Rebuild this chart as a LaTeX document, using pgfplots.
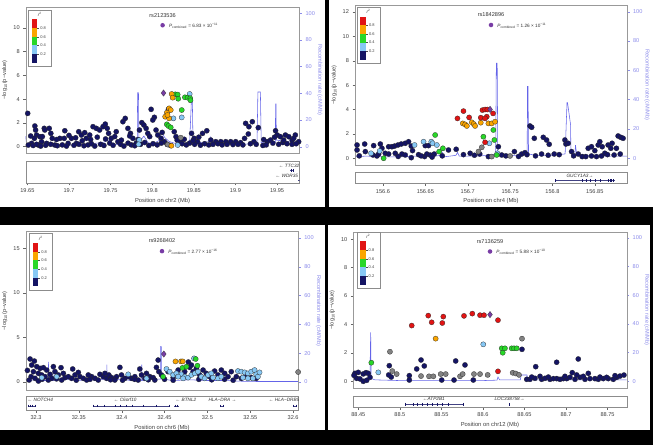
\documentclass[border=0pt]{standalone}
\usepackage{fontspec}
\setmainfont{Liberation Sans}
\usepackage{pgfplots}
\pgfplotsset{compat=1.18}
\definecolor{lznavy}{RGB}{20,20,100}
\definecolor{lzlblue}{RGB}{135,200,245}
\definecolor{lzgreen}{RGB}{40,215,40}
\definecolor{lzorange}{RGB}{250,165,0}
\definecolor{lzred}{RGB}{225,20,20}
\definecolor{lzgray}{RGB}{130,130,130}
\definecolor{lzpurple}{RGB}{120,60,165}
\definecolor{lzlav}{RGB}{140,140,235}
\definecolor{lzline}{RGB}{100,100,232}
\pgfplotsset{
  lzbase/.style={scale only axis, /pgf/number format/assume math mode=true,
    tick align=outside, major tick length=2.5pt, scaled ticks=false,
    ticklabel style={font=\fontsize{5.6}{6}\selectfont, text=black!75},
    every tick/.style={black!60, line width=0.4pt}},
  lzmain/.style={lzbase, axis line style={black!40, line width=0.4pt},
    xtick=\empty, ytick pos=left,
    ylabel={−log\textsubscript{10}(p−value)},
    ylabel style={font=\fontsize{5.6}{6}\selectfont, text=black!75, at={(axis description cs:-0.077,0.5)}, anchor=center}},
  lzrec/.style={lzbase, axis x line=none, axis y line*=right,
    y axis line style={lzlav, line width=0.4pt},
    ytick={0,20,40,60,80,100},
    ticklabel style={font=\fontsize{5.6}{6}\selectfont, text=lzlav},
    every tick/.style={lzlav, line width=0.4pt},
    ylabel={Recombination rate (cM/Mb)},
    ylabel style={font=\fontsize{5.6}{6}\selectfont, text=lzlav, rotate=180, at={(axis description cs:1.074,0.5)}, anchor=center}},
  lzgene/.style={lzbase, axis line style={black!45, line width=0.4pt},
    ytick=\empty, ymin=0, ymax=1, xtick pos=bottom,
    xticklabel style={/pgf/number format/fixed, /pgf/number format/precision=2},
    xlabel style={font=\fontsize{5.8}{6.5}\selectfont, text=black!75, yshift=1.5pt}},
  pts/.style={only marks, mark=*, mark size=2.6pt, mark options={draw=black!85, line width=0.25pt, fill=#1}},
  lead/.style={only marks, mark=diamond*, mark size=3.2pt, mark options={draw=black!80, line width=0.25pt, fill=lzpurple}},
  recl/.style={lzline, line width=0.55pt, no marks},
  gline/.style={lznavy!80, line width=0.5pt, no marks},
  gex/.style={only marks, mark=|, mark size=1.3pt, mark options={lznavy, line width=0.6pt}},
}
\newcommand{\rlegend}[2]{%
\begin{scope}[shift={(#1pt,#2pt)}]
\draw[black!45, line width=0.4pt, fill=white] (0,0) rectangle (23pt,-56pt);
\fill[lzred] (3.4pt,-9.3pt) rectangle (9pt,-18pt);
\fill[lzorange] (3.4pt,-18pt) rectangle (9pt,-26.7pt);
\fill[lzgreen] (3.4pt,-26.7pt) rectangle (9pt,-35.3pt);
\fill[lzlblue] (3.4pt,-35.3pt) rectangle (9pt,-44pt);
\fill[lznavy] (3.4pt,-44pt) rectangle (9pt,-52.7pt);
\foreach \yy/\ll in {18/0.8,26.7/0.6,35.3/0.4,44/0.2}{
  \draw[black!70, line width=0.3pt] (9pt,-\yy pt) -- (11pt,-\yy pt);
  \node[font=\fontsize{4}{4.5}\selectfont, text=black!75, anchor=west, inner sep=0.5pt] at (11.3pt,-\yy pt) {\ll};}
\node[font=\fontsize{4.5}{5}\selectfont, text=black!75, inner sep=0pt] at (11.5pt,-4.5pt) {\textit{r}\textsuperscript{2}};
\end{scope}}
\newcommand{\ptitle}[2]{%
\node[font=\fontsize{5.6}{6}\selectfont, text=black!80] at (axis description cs:0.5,0.94) {#1};
\node[circle, fill=lzpurple, inner sep=1.6pt] at (axis description cs:0.5,0.875) {};
\node[font=\fontsize{4.7}{5}\selectfont, text=black!80, anchor=west, inner sep=0pt] at (axis description cs:0.523,0.872) {\textit{P}\textsubscript{combined} = #2};}
\begin{document}
\begin{tikzpicture}
\useasboundingbox (0,0) rectangle (653pt,445pt);
\fill[black] (0,0) rectangle (653pt,445pt);
\fill[white] (0pt,238pt) rectangle (325pt,445pt);
\fill[white] (329pt,238pt) rectangle (653pt,445pt);
\fill[white] (0pt,15pt) rectangle (325pt,220pt);
\fill[white] (328pt,15pt) rectangle (650pt,220pt);

% ================= Panel 1 =================
\begin{axis}[lzrec, at={(25.7pt,292pt)}, width=273.8pt, height=146pt, xmin=19.648, xmax=19.977, ymin=-4.7, ymax=104.7]
\addplot[recl] coordinates {(19.648,8) (19.649,2) (19.66,1.5) (19.672,2) (19.68,1) (19.69,1.5) (19.70,1) (19.71,2) (19.72,1.5) (19.73,2.5) (19.74,3) (19.748,5) (19.752,2) (19.765,1) (19.775,2) (19.782,2) (19.7825,40.5) (19.7835,40.5) (19.784,3) (19.79,8) (19.795,3) (19.80,2) (19.8095,5) (19.8106,11) (19.815,7) (19.82,4) (19.83,2) (19.845,3) (19.8472,36) (19.8482,36) (19.849,4) (19.86,3) (19.8695,4) (19.8704,7) (19.872,3) (19.89,2) (19.90,1.5) (19.915,2) (19.926,3) (19.927,41) (19.930,41) (19.931,3) (19.94,3) (19.948,3) (19.9483,32) (19.9488,32) (19.9492,5) (19.96,4) (19.977,3)};
\end{axis}
\begin{axis}[lzmain, at={(25.7pt,292pt)}, width=273.8pt, height=146pt, xmin=19.648, xmax=19.977, ymin=-0.53, ymax=11.74, ytick={0,2,4,6,8,10}]
\addplot[pts=lznavy] coordinates {(19.6504,2.8) (19.659,1.74) (19.6599,1.4) (19.6611,0.98) (19.6584,0.7) (19.6651,0.84) (19.6671,0.42) (19.6703,1.54) (19.671,1.4) (19.6763,1.54) (19.6782,1.12) (19.6799,0.7) (19.6731,0.28) (19.6551,0.28) (19.6512,0.14) (19.6632,0.14) (19.683,0.14) (19.689,0.7) (19.695,1.34) (19.6943,0.7) (19.699,0.28) (19.703,0.7) (19.709,0.28) (19.7117,1.26) (19.715,0.98) (19.7189,1.18) (19.7209,0.7) (19.7249,0.98) (19.7289,1.68) (19.7329,1.54) (19.7368,1.4) (19.7409,1.68) (19.7436,1.9) (19.746,1.54) (19.7476,1.12) (19.7508,0.7) (19.7568,1.26) (19.7588,0.42) (19.7648,2.1) (19.7676,2.38) (19.7708,1.54) (19.7739,1.12) (19.7768,0.7) (19.7807,0.28) (19.7847,1.4) (19.7875,2.02) (19.79,1.82) (19.7927,1.54) (19.7947,1.12) (19.7987,3.14) (19.8026,2.47) (19.8007,2.24) (19.8046,1.4) (19.8067,0.98) (19.8106,0.7) (19.8146,0.42) (19.8265,1.26) (19.8286,0.84) (19.8337,0.42) (19.8385,0.62) (19.8473,1.12) (19.8504,0.7) (19.8545,0.42) (19.8605,1.12) (19.8656,1.34) (19.8704,0.56) (19.8764,0.42) (19.8824,0.42) (19.8884,0.42) (19.8943,0.42) (19.9003,0.42) (19.9063,0.34) (19.9123,1.96) (19.9162,1.68) (19.9203,2.1) (19.9155,1.07) (19.9222,0.42) (19.9275,1.6) (19.9382,0.42) (19.9422,0.56) (19.9482,1.34) (19.9502,0.98) (19.9541,0.84) (19.9601,0.98) (19.9641,0.84) (19.9681,0.56) (19.972,0.98) (19.976,0.42)
(19.657,0.1) (19.661,0.2) (19.666,0.05) (19.672,0.12) (19.678,0.2) (19.686,0.08) (19.692,0.15) (19.697,0.05) (19.706,0.12) (19.712,0.2) (19.718,0.08) (19.723,0.15) (19.727,0.25) (19.731,0.05) (19.738,0.2) (19.742,0.1) (19.749,0.3) (19.753,0.12) (19.762,0.2) (19.766,0.05) (19.771,0.3) (19.775,0.15) (19.779,0.08) (19.786,0.2) (19.791,0.35) (19.796,0.1) (19.801,0.25) (19.806,0.15) (19.811,0.3) (19.818,0.2) (19.822,0.1) (19.836,0.25) (19.841,0.15) (19.845,0.3) (19.851,0.2) (19.858,0.12) (19.863,0.25) (19.868,0.15) (19.873,0.2) (19.879,0.25) (19.884,0.15) (19.89,0.2) (19.897,0.18) (19.903,0.2) (19.909,0.15) (19.918,0.25) (19.925,0.2) (19.933,0.1) (19.937,0.15) (19.945,0.3) (19.952,0.2) (19.957,0.35) (19.962,0.25) (19.968,0.2) (19.973,0.25)
(19.654,0.9) (19.668,0.85) (19.685,0.6) (19.7,0.95) (19.708,0.75) (19.716,0.5) (19.726,0.6) (19.734,0.8) (19.744,0.65) (19.755,0.85) (19.763,0.55) (19.773,0.9) (19.783,0.6) (19.797,0.85) (19.812,1.2) (19.83,0.55) (19.849,0.5) (19.856,0.8) (19.911,0.7) (19.934,0.6) (19.947,0.8) (19.958,0.55) (19.97,0.7) (19.8195,3.14)};
\addplot[pts=lzgray] coordinates {(19.8343,0.76) (19.8185,0.18)};
\addplot[pts=lzlblue] coordinates {(19.7845,0.56) (19.7837,0.2) (19.8306,0.14) (19.8255,2.38) (19.8355,2.46) (19.845,4.43)};
\addplot[pts=lzgreen] coordinates {(19.8278,4.40) (19.8306,4.38) (19.8313,4.03) (19.8393,4.15) (19.8426,4.12) (19.8457,4.07) (19.846,3.9) (19.8176,1.88) (19.8195,1.74) (19.8223,1.62) (19.8355,3.08)};
\addplot[pts=lzorange] coordinates {(19.8234,4.43) (19.8246,4.12) (19.8203,3.22) (19.8223,3.08) (19.8176,2.86) (19.8156,2.52) (19.8203,2.38) (19.8184,2.66) (19.8231,0.08)};
\addplot[lead] coordinates {(19.8136,4.51)};
\ptitle{rs2123536}{6.83 × 10\textsuperscript{−11}}
\end{axis}
\begin{axis}[lzgene, at={(25.7pt,262pt)}, width=273.8pt, height=22pt, xmin=19.648, xmax=19.977, xtick={19.65,19.7,19.75,19.8,19.85,19.9,19.95}, xlabel={Position on chr2 (Mb)}]
\addplot[gline] coordinates {(19.966,0.58) (19.970,0.58)};
\addplot[gex] coordinates {(19.967,0.58) (19.969,0.58)};
\addplot[gline] coordinates {(19.9755,0.12) (19.977,0.12)};
\node[font=\itshape\fontsize{4.7}{5}\selectfont, text=black!80, anchor=east, inner sep=0pt] at (axis cs:19.977,0.8) {← TTC32};
\node[font=\itshape\fontsize{4.7}{5}\selectfont, text=black!80, anchor=east, inner sep=0pt] at (axis cs:19.9755,0.32) {← WDR35};
\end{axis}

% ================= Panel 2 =================
\begin{axis}[lzrec, at={(355pt,280pt)}, width=272pt, height=160pt, xmin=156.567, xmax=156.888, ymin=-4.57, ymax=104.6]
\addplot[recl] coordinates {(156.567,1) (156.58,1.5) (156.60,1) (156.62,1) (156.64,1.5) (156.655,1) (156.668,2) (156.670,4) (156.672,1) (156.686,2) (156.688,4) (156.690,1.5) (156.71,1.5) (156.725,2) (156.733,3) (156.7338,65) (156.7348,65) (156.7355,3) (156.745,2) (156.76,2) (156.7702,3) (156.7705,49) (156.7712,49) (156.7718,3) (156.78,2) (156.80,2) (156.815,3) (156.8172,38) (156.8178,38) (156.8214,23) (156.8218,3) (156.8265,3) (156.8272,9) (156.8285,3) (156.84,2) (156.86,1.5) (156.888,1.5)};
\end{axis}
\begin{axis}[lzmain, at={(355pt,280pt)}, width=272pt, height=160pt, xmin=156.567, xmax=156.888, ymin=-0.55, ymax=12.57, ytick={0,2,4,6,8,10,12}]
\addplot[pts=lznavy] coordinates {(156.5694,1.09) (156.5694,0.68) (156.5784,1.17) (156.5890,1.04) (156.5969,1.17) (156.5988,0.82) (156.6067,0.95) (156.6106,0.95) (156.6137,1.0) (156.6177,1.09) (156.6216,1.17) (156.6263,1.23) (156.6302,1.36) (156.6334,1.0) (156.6349,0.63) (156.6027,0.41) (156.6067,0.35) (156.6145,0.41) (156.6224,0.35) (156.6263,0.27) (156.6334,0.05) (156.6491,0.14) (156.6518,0.35) (156.6558,0.27) (156.6605,0.35) (156.6499,1.04) (156.6538,1.04) (156.6773,0.68) (156.6864,0.74) (156.7029,0.41) (156.7142,0.35) (156.7244,0.14) (156.7362,0.95) (156.7401,0.27) (156.7551,0.55) (156.7637,0.35) (156.7676,0.46) (156.7735,2.65) (156.7755,2.54) (156.7786,1.64) (156.7872,0.35) (156.7892,1.72) (156.7931,1.5) (156.7962,1.15) (156.8021,0.35) (156.8147,1.5) (156.8159,1.17) (156.8186,1.23) (156.8226,0.55) (156.8304,0.35) (156.8351,0.14) (156.8394,0.14) (156.8422,0.82) (156.8461,0.95) (156.85,0.63) (156.854,1.09) (156.8559,1.36) (156.8587,0.95) (156.8618,0.41) (156.8657,1.09) (156.8689,0.82) (156.8704,1.23) (156.8728,0.27) (156.8755,0.82) (156.8775,1.83) (156.8806,1.72) (156.8834,1.64) (156.8461,0.19) (156.852,0.14) (156.8579,0.19) (156.5792,0.55) (156.5882,0.27) (156.5929,0.19) (156.5949,0.35) (156.5720,0.2) (156.6180,0.15) (156.6420,0.3) (156.6450,0.2) (156.6580,0.1) (156.6700,0.2) (156.6950,0.3) (156.7080,0.25) (156.7450,0.2) (156.7600,0.15) (156.7700,0.3) (156.7800,0.2) (156.7950,0.25) (156.8080,0.3) (156.8250,0.2) (156.8650,0.3) (156.8800,0.35)};
\addplot[pts=lzgray] coordinates {(156.7166,0.9) (156.7284,0.14) (156.75,0.19) (156.7127,0.55)};
\addplot[pts=lzlblue] coordinates {(156.5859,0.41) (156.5961,0.6) (156.6373,1.09) (156.6479,1.36) (156.657,1.36) (156.6585,1.23) (156.6636,1.09) (156.7256,1.23) (156.735,0.41)};
\addplot[pts=lzgreen] coordinates {(156.6616,1.91) (156.7185,1.77) (156.7303,2.32) (156.7315,1.5) (156.6663,0.55) (156.6707,0.82) (156.6008,0.0) (156.7342,0.27)};
\addplot[pts=lzorange] coordinates {(156.6942,2.86) (156.697,2.78) (156.699,2.65) (156.7048,2.95) (156.7072,2.81) (156.7087,2.65) (156.7154,2.92) (156.7244,2.86) (156.7284,2.86) (156.7323,3.0)};
\addplot[pts=lzred] coordinates {(156.695,3.87) (156.6879,3.27) (156.7017,3.35) (156.7154,3.33) (156.7174,3.95) (156.7205,4.0) (156.7232,4.0) (156.7225,3.41) (156.7205,3.27) (156.7299,3.68) (156.7205,1.31)};
\addplot[lead] coordinates {(156.7264,4.01)};
\ptitle{rs1842896}{1.26 × 10\textsuperscript{−11}}
\end{axis}
\begin{axis}[lzgene, at={(355pt,261.7pt)}, width=272pt, height=10.6pt, xmin=156.567, xmax=156.888, xtick={156.6,156.65,156.7,156.75,156.8,156.85}, xlabel={Position on chr4 (Mb)}]
\addplot[gline] coordinates {(156.803,0.25) (156.8736,0.25)};
\addplot[gex] coordinates {(156.803,0.25) (156.835,0.25) (156.840,0.25) (156.845,0.25) (156.850,0.25) (156.856,0.25) (156.866,0.25) (156.868,0.25) (156.870,0.25) (156.872,0.25)};
\node[font=\itshape\fontsize{4.7}{5}\selectfont, text=black!80, inner sep=0pt] at (axis cs:156.8324,0.72) {GUCY1A3→};
\end{axis}

% ================= Panel 3 =================
\begin{axis}[lzrec, at={(25.7pt,54.7pt)}, width=272.6pt, height=159pt, xmin=32.288, xmax=32.606, ymin=-5.8, ymax=104.7]
\addplot[recl] coordinates {(32.288,2) (32.295,1) (32.300,3) (32.305,1) (32.314,1) (32.3145,14) (32.315,1) (32.3195,1) (32.3198,12) (32.3202,1) (32.33,2) (32.35,1) (32.36,2) (32.37,1) (32.38,2) (32.3824,1) (32.3827,12) (32.383,1) (32.40,2) (32.41,1) (32.42,2) (32.4231,1) (32.4234,12) (32.4237,1) (32.435,2) (32.44,2) (32.445,2) (32.4452,24.5) (32.4462,24.5) (32.4464,2) (32.46,1) (32.48,1.5) (32.50,1) (32.52,1) (32.54,0.5) (32.56,0.3) (32.606,0.3)};
\end{axis}
\begin{axis}[lzmain, at={(25.7pt,54.7pt)}, width=272.6pt, height=159pt, xmin=32.288, xmax=32.606, ymin=-0.93, ymax=16.9, ytick={0,5,10,15}]
\addplot[pts=lznavy] coordinates {(32.2931,2.58) (32.2981,2.35) (32.2950,1.9) (32.3009,1.72) (32.3047,1.53) (32.3086,1.61) (32.3125,1.34) (32.2970,1.16) (32.3028,0.97) (32.3067,0.79) (32.2943,0.6) (32.2989,0.41) (32.3106,0.6) (32.3164,0.86) (32.3203,1.72) (32.3222,1.16) (32.3261,0.79) (32.3292,1.61) (32.3319,0.97) (32.3338,0.49) (32.33,0.22) (32.292,0.22) (32.3028,0.11) (32.3144,0.22) (32.3183,0.41) (32.3428,1.46) (32.3455,0.79) (32.3416,0.41) (32.3513,0.6) (32.3552,0.41) (32.3591,0.22) (32.3494,1.08) (32.3649,0.6) (32.3688,0.41) (32.3746,0.86) (32.3785,0.6) (32.3823,0.41) (32.385,0.79) (32.3882,0.49) (32.394,0.6) (32.3979,1.64) (32.3998,0.79) (32.4037,0.41) (32.392,0.22) (32.3726,0.22) (32.4114,0.41) (32.4153,0.6) (32.4211,1.46) (32.4231,0.79) (32.427,0.41) (32.4328,0.6) (32.4367,0.49) (32.4405,1.64) (32.4425,2.46) (32.4433,1.16) (32.4464,0.79) (32.4386,0.22) (32.4192,0.22) (32.4541,1.16) (32.4658,1.34) (32.4735,1.16) (32.4793,1.64) (32.4813,1.9) (32.4832,1.16) (32.4871,1.53) (32.491,0.79) (32.4949,1.34) (32.4987,0.97) (32.5026,0.6) (32.5084,1.23) (32.5123,0.79) (32.5162,1.34) (32.5201,0.97) (32.524,0.6) (32.5278,1.16) (32.5337,0.6) (32.5395,0.41) (32.5453,0.79) (32.5511,0.49) (32.5569,0.41) (32.3377,0.6) (32.3610,0.79) (32.3804,0.97) (32.4076,0.6) (32.4289,0.97) (32.46,0.49) (32.4778,2.24) (32.2900,1.3) (32.3070,0.3) (32.3240,0.35) (32.3470,0.2) (32.3630,0.3) (32.3870,0.25) (32.4010,0.2) (32.4150,0.3) (32.4310,0.25) (32.4500,0.3) (32.4600,0.2) (32.4900,0.3) (32.5050,0.25) (32.5200,0.3) (32.5300,0.2)};
\addplot[pts=lzgray] coordinates {(32.6058,1.12)};
\addplot[pts=lzlblue] coordinates {(32.3067,0.49) (32.3241,0.6) (32.4522,1.46) (32.456,1.16) (32.46,0.79) (32.4638,0.97) (32.4696,0.86) (32.4735,0.6) (32.4774,0.49) (32.4813,0.79) (32.4852,0.97) (32.489,1.16) (32.4929,0.6) (32.4968,0.41) (32.5007,0.79) (32.5046,0.97) (32.5065,0.49) (32.5123,0.41) (32.5162,0.6) (32.5356,1.23) (32.5395,1.16) (32.5434,1.08) (32.5472,0.97) (32.5511,1.16) (32.555,1.34) (32.5569,0.86) (32.5589,0.6) (32.553,0.41) (32.5472,0.41) (32.5414,0.49) (32.4076,0.86) (32.4289,0.41) (32.4844,2.65) (32.4658,0.6) (32.4716,0.41) (32.5608,1.08)};
\addplot[pts=lzgreen] coordinates {(32.4483,0.6) (32.4708,1.58) (32.4755,1.72) (32.4883,1.83) (32.4863,2.58)};
\addplot[pts=lzorange] coordinates {(32.4627,2.31) (32.4692,2.31) (32.4712,2.31)};
\addplot[lead] coordinates {(32.4491,3.14)};
\ptitle{rs9268402}{2.77 × 10\textsuperscript{−16}}
\end{axis}
\begin{axis}[lzgene, at={(25.7pt,35pt)}, width=272.6pt, height=14pt, xmin=32.288, xmax=32.606, xtick={32.3,32.35,32.4,32.45,32.5,32.55,32.6}, xlabel={Position on chr6 (Mb)}]
\addplot[gline] coordinates {(32.2905,0.3) (32.2992,0.3)};
\addplot[gline] coordinates {(32.3664,0.3) (32.4564,0.3)};
\addplot[gex] coordinates {(32.367,0.3) (32.372,0.3) (32.380,0.3) (32.392,0.3) (32.398,0.3) (32.405,0.3) (32.412,0.3) (32.425,0.3) (32.440,0.3) (32.456,0.3)};
\addplot[gline] coordinates {(32.461,0.3) (32.467,0.3)};
\addplot[gline] coordinates {(32.5147,0.3) (32.5193,0.3)};
\addplot[gline] coordinates {(32.5996,0.3) (32.6043,0.3)};
\addplot[gex] coordinates {(32.2905,0.3) (32.293,0.3) (32.296,0.3) (32.299,0.3) (32.462,0.3) (32.465,0.3) (32.515,0.3) (32.519,0.3) (32.600,0.3) (32.604,0.3)};
\node[font=\itshape\fontsize{4.7}{5}\selectfont, text=black!80, inner sep=0pt] at (axis cs:32.305,0.72) {← NOTCH4};
\node[font=\itshape\fontsize{4.7}{5}\selectfont, text=black!80, inner sep=0pt] at (axis cs:32.404,0.72) {← C6orf10};
\node[font=\itshape\fontsize{4.7}{5}\selectfont, text=black!80, inner sep=0pt] at (axis cs:32.475,0.72) {← BTNL2};
\node[font=\itshape\fontsize{4.7}{5}\selectfont, text=black!80, inner sep=0pt] at (axis cs:32.5175,0.72) {HLA−DRA →};
\node[font=\itshape\fontsize{4.7}{5}\selectfont, text=black!80, inner sep=0pt] at (axis cs:32.5895,0.72) {← HLA−DRB5};
\end{axis}

% ================= Panel 4 =================
\begin{axis}[lzrec, at={(353.3pt,57pt)}, width=273.4pt, height=156pt, xmin=88.444, xmax=88.773, ymin=-4.67, ymax=104]
\addplot[recl] coordinates {(88.444,1) (88.46,1) (88.464,2) (88.4649,34) (88.4655,2) (88.47,1) (88.50,0.5) (88.55,0.5) (88.60,0.5) (88.617,0.8) (88.6181,3) (88.62,1) (88.63,1) (88.645,1) (88.646,4.4) (88.653,4.4) (88.654,1) (88.70,1) (88.773,1)};
\end{axis}
\begin{axis}[lzmain, at={(353.3pt,57pt)}, width=273.4pt, height=156pt, xmin=88.444, xmax=88.773, ymin=-0.47, ymax=10.5, ytick={0,2,4,6,8,10}]
\addplot[pts=lznavy] coordinates {(88.647,2.25) (88.4873,1.1) (88.5255,1.5) (88.5294,1.08) (88.5203,0.87) (88.5672,1.43) (88.5784,1.15) (88.6635,1.03) (88.6887,1.34) (88.7147,1.57) (88.7268,0.56) (88.7075,0.61) (88.5114,0.4) (88.5114,0.09) (88.5504,0.09) (88.5652,0.09) (88.5884,0.09) (88.446,0.56) (88.45,0.63) (88.456,0.52) (88.4593,0.61) (88.462,0.56) (88.448,0.21) (88.452,0.17) (88.456,0.0) (88.4601,0.07) (88.4641,0.28) (88.4448,0.42) (88.6527,0.14) (88.6566,0.14) (88.6626,0.21) (88.6707,0.14) (88.6747,0.21) (88.6807,0.14) (88.6847,0.19) (88.6888,0.19) (88.6927,0.14) (88.6967,0.19) (88.7008,0.19) (88.7048,0.28) (88.7108,0.14) (88.7168,0.28) (88.7228,0.14) (88.7288,0.19) (88.7348,0.19) (88.7388,0.14) (88.7448,0.19) (88.7509,0.19) (88.7569,0.14) (88.7609,0.28) (88.7649,0.37) (88.7697,0.44) (88.4897,0.3) (88.4866,0.45) (88.6587,0.3) (88.6687,0.35) (88.6787,0.3) (88.6987,0.35) (88.7128,0.45) (88.7208,0.35) (88.7408,0.3) (88.7488,0.28) (88.7589,0.4)};
\addplot[pts=lzgray] coordinates {(88.647,3.0) (88.4881,2.08) (88.4909,0.72) (88.4962,0.51) (88.5255,0.37) (88.5351,0.35) (88.5403,0.35) (88.5492,0.51) (88.5552,0.51) (88.5724,0.35) (88.5756,0.51) (88.5892,0.51) (88.5965,0.51) (88.6057,0.45) (88.6358,0.6) (88.6394,0.55) (88.6434,0.45)};
\addplot[pts=lzlblue] coordinates {(88.6004,2.6) (88.4741,0.63)};
\addplot[pts=lzgreen] coordinates {(88.4657,1.31) (88.6226,2.32) (88.6265,2.32) (88.6238,2.01) (88.6346,2.32) (88.6374,2.32) (88.6406,2.32)};
\addplot[pts=lzorange] coordinates {(88.5431,3.0)};
\addplot[pts=lzred] coordinates {(88.5143,3.92) (88.5342,4.62) (88.5383,4.15) (88.5523,4.55) (88.5511,4.1) (88.5772,4.6) (88.5872,4.76) (88.5965,4.65) (88.6013,4.65) (88.6181,4.3) (88.6181,0.7)};
\addplot[lead] coordinates {(88.6085,4.69)};
\ptitle{rs7136259}{5.88 × 10\textsuperscript{−10}}
\end{axis}
\begin{axis}[lzgene, at={(353.3pt,38pt)}, width=273.4pt, height=11pt, xmin=88.444, xmax=88.773, xtick={88.45,88.5,88.55,88.6,88.65,88.7,88.75}, xlabel={Position on chr12 (Mb)}]
\addplot[gline] coordinates {(88.5061,0.25) (88.5763,0.25)};
\addplot[gex] coordinates {(88.5061,0.25) (88.5065,0.25) (88.516,0.25) (88.521,0.25) (88.527,0.25) (88.533,0.25) (88.539,0.25) (88.545,0.25) (88.551,0.25) (88.558,0.25) (88.5763,0.25)};
\addplot[gex] coordinates {(88.6317,0.25)};
\node[font=\itshape\fontsize{4.7}{5}\selectfont, text=black!80, inner sep=0pt] at (axis cs:88.541,0.72) {←ATP2B1};
\node[font=\itshape\fontsize{4.7}{5}\selectfont, text=black!80, inner sep=0pt] at (axis cs:88.632,0.72) {LOC338758→};
\end{axis}

\rlegend{28.3}{435}
\rlegend{357}{437.7}
\rlegend{29.3}{211.3}
\rlegend{356.7}{213}
\end{tikzpicture}
\end{document}
